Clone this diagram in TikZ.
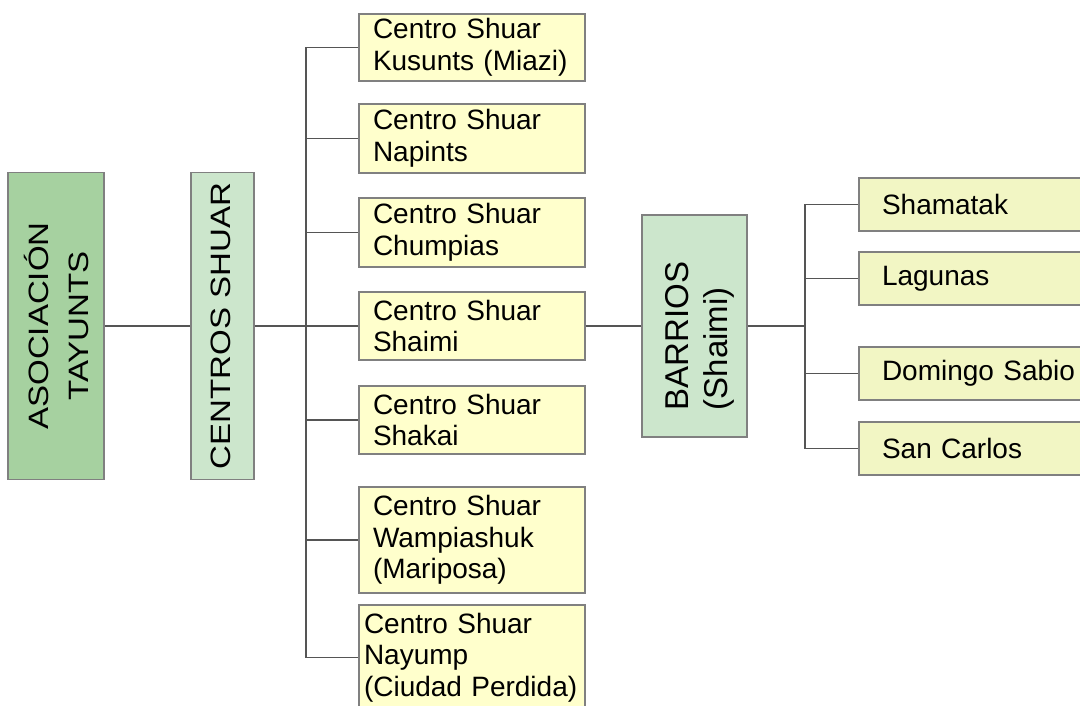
\documentclass[tikz,border=0pt]{standalone}
\usepackage{fontspec}
\setmainfont{Liberation Sans}
\usepackage{graphicx}
\definecolor{asocgreen}{RGB}{166,209,160}
\definecolor{palegreen}{RGB}{204,230,204}
\definecolor{paleyellow}{RGB}{255,255,204}
\definecolor{limeyellow}{RGB}{242,246,196}
\definecolor{boxline}{RGB}{128,128,128}
\definecolor{linkline}{RGB}{85,85,85}
\newcommand{\vtext}[4]{\scalebox{#1}[1]{\begin{tabular}{#2}\noalign{\vspace{#3}}#4\end{tabular}}}

\begin{document}
\begin{tikzpicture}[x=1pt, y=-1pt,
        box/.style = {draw=boxline, line width=1.3pt, rectangle, font=\fontsize{28}{31.5}\selectfont},
        group/.style = {box, rotate=90, inner sep=0pt, font=\fontsize{28}{40}\selectfont},
        centro/.style = {box, fill=paleyellow, text width=198pt, inner xsep=14pt, inner ysep=0pt, align=left},
        barrio/.style = {box, fill=limeyellow, text width=220pt, inner xsep=23pt, inner ysep=0pt, minimum height=53pt, align=left},
        link/.style = {draw=linkline, line width=1.2pt}]
            \useasboundingbox (0,0) rectangle (1080,706);

            \node[group, fill=asocgreen, minimum width=307pt, minimum height=96pt] (asoc) at (56,326) {\vtext{1.18}{@{}c@{}}{9pt}{ASOCIACIÓN\\TAYUNTS}};
            \node[group, fill=palegreen, minimum width=307pt, minimum height=63pt] (centros) at (222.5,326) {\vtext{1.18}{@{}c@{}}{0pt}{CENTROS SHUAR}};

            \node[centro, minimum height=68pt] (shaimi) at (472,326) {Centro Shuar\\Shaimi};
            \node[centro, minimum height=69pt] (chumpias) [node distance=93.5pt, above of=shaimi] {Centro Shuar\\Chumpias};
            \node[centro, minimum height=69pt] (napints) [node distance=94pt, above of=chumpias] {Centro Shuar\\Napints};
            \node[centro, minimum height=67pt] (kusunts) [node distance=91pt, above of=napints] {Centro Shuar\\Kusunts (Miazi)};
            \node[centro, minimum height=68pt] (shakai) [node distance=94pt, below of=shaimi] {Centro Shuar\\Shakai};
            \node[centro, minimum height=106pt] (wampiashuk) [node distance=120pt, below of=shakai] {Centro Shuar\\Wampiashuk\\(Mariposa)};
            \node[centro, minimum height=105pt, text width=216pt, inner xsep=5pt] (nayump) [node distance=117.5pt, below of=wampiashuk] {Centro Shuar\\Nayump\\(Ciudad Perdida)};

            \node[group, fill=palegreen, minimum width=222pt, minimum height=105pt, font=\fontsize{33}{39}\selectfont] (barrios) at (694.5,326) {\vtext{1}{@{}l@{\hspace{20pt}}}{12pt}{BARRIOS\\(Shaimi)}};

            \node[barrio] (shamatak) at (992,204.5) {Shamatak};
            \node[barrio] (lagunas) [node distance=74pt, below of=shamatak] {Lagunas};
            \node[barrio] (domingo) [node distance=95pt, below of=lagunas] {Domingo Sabio};
            \node[barrio] (sancarlos) [node distance=75pt, below of=domingo] {San Carlos};

            \coordinate (centrosbus) at (306,326);
            \coordinate (barriosbus) at (805,326);

            \draw[link] (asoc) -- (centros);
            \draw[link] (centros) -- (centrosbus);
            \draw[link] (centrosbus) |- (kusunts.west);
            \draw[link] (centrosbus) |- (napints.west);
            \draw[link] (centrosbus) |- (chumpias.west);
            \draw[link] (centrosbus) -- (shaimi.west);
            \draw[link] (centrosbus) |- (shakai.west);
            \draw[link] (centrosbus) |- (wampiashuk.west);
            \draw[link] (centrosbus) |- (nayump.west);

            \draw[link] (shaimi) -- (barrios);
            \draw[link] (barrios) -- (barriosbus);
            \draw[link] (barriosbus) |- (shamatak.west);
            \draw[link] (barriosbus) |- (lagunas.west);
            \draw[link] (barriosbus) |- (domingo.west);
            \draw[link] (barriosbus) |- (sancarlos.west);
        \end{tikzpicture}
\end{document}
